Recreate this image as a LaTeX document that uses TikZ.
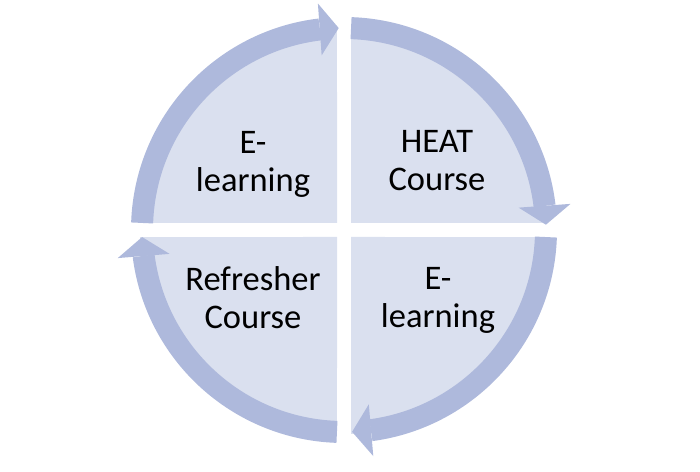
\documentclass[tikz,border=0pt]{standalone}
\usepackage{fontspec}
\setmainfont{Carlito}
\usetikzlibrary{arrows.meta,bending}
\definecolor{quadfill}{HTML}{DAE0EF}
\definecolor{cyclearc}{HTML}{AEB9DC}

\begin{document}
\begin{tikzpicture}[x=1pt,y=1pt,
        quad/.style={fill=quadfill},
        lbl/.style={font=\fontsize{34.5}{38}\selectfont, align=center, text=black},
        cyc/.style={draw=cyclearc, line width=22pt, -{Triangle[width=52pt,length=19pt,line width=0pt]}}]
    \useasboundingbox (0,0) rectangle (700,471);
    \begin{scope}[shift={(344,241)}]
            \fill[quad] (-7,7) -- (178.03:204pt) arc[start angle=178.03, end angle=91.97, radius=204pt] -- cycle;
            \fill[quad] (7,7) -- (88.03:204pt) arc[start angle=88.03, end angle=1.97, radius=204pt] -- cycle;
            \fill[quad] (7,-7) -- (-1.97:204pt) arc[start angle=-1.97, end angle=-88.03, radius=204pt] -- cycle;
            \fill[quad] (-7,-7) -- (-91.97:204pt) arc[start angle=-91.97, end angle=-178.03, radius=204pt] -- cycle;

            \node[lbl] at (-91, 66)        (elearn1)  {E-\\learning};
            \node[lbl] at (93, 69)         (heat)     {HEAT\\Course};
            \node[lbl] at (94, -70)        (elearn2)  {E-\\learning};
            \node[lbl] at (-91, -68)       (refresh)  {Refresher\\Course};

            \coordinate (tl) at (178:202pt);
            \coordinate (tr) at (88:202pt);
            \coordinate (br) at (-2:202pt);
            \coordinate (bl) at (-92:202pt);

            \draw[cyc] (tl) arc[start angle=178, end angle=91.5, radius=202pt];
            \draw[cyc] (tr) arc[start angle=88, end angle=1.5, radius=202pt];
            \draw[cyc] (br) arc[start angle=-2, end angle=-87.7, radius=202pt];
            \draw[cyc] (bl) arc[start angle=-92, end angle=-178, radius=202pt];
    \end{scope}
\end{tikzpicture}
\end{document}
